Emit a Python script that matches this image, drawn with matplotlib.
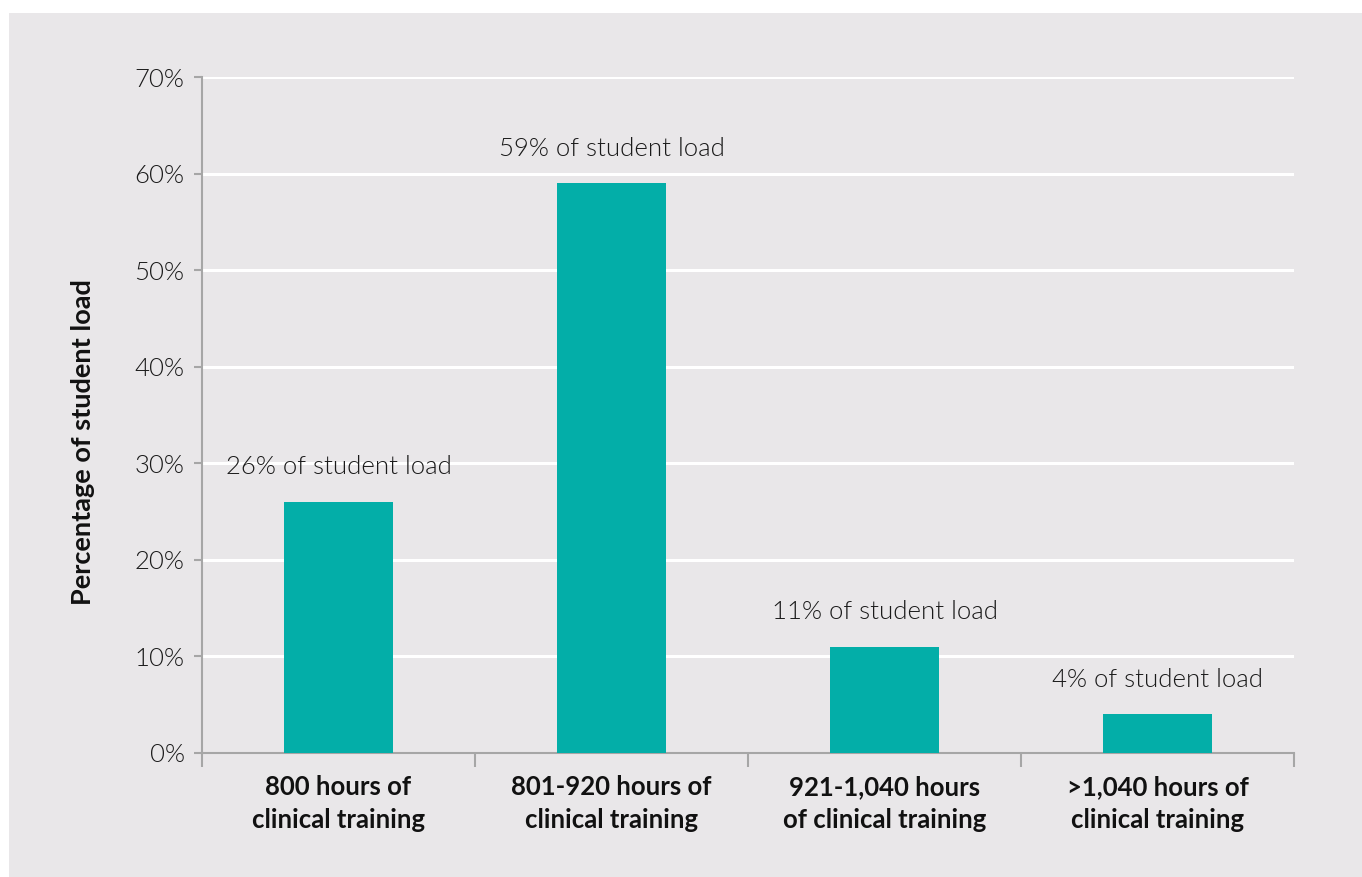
import matplotlib.pyplot as plt
from matplotlib.patches import Rectangle

categories = ["800 hours of\nclinical training", "801-920 hours of\nclinical training",
              "921-1,040 hours\nof clinical training", ">1,040 hours of\nclinical training"]
values = [26, 59, 11, 4]
labels = ["26% of student load", "59% of student load", "11% of student load", "4% of student load"]

plt.rcParams['font.family'] = ['Lato', 'DejaVu Sans']

fig = plt.figure(figsize=(13.62, 8.77), dpi=100)
fig.patch.set_facecolor("white")
fig.patches.append(Rectangle((9 / 1362, 0), 1, 1 - 13 / 877, transform=fig.transFigure,
                             facecolor="#e9e7e9", edgecolor="none", zorder=-10))

ax = fig.add_axes([202 / 1362, 1 - 753 / 877, 1092 / 1362, 676 / 877])
ax.set_facecolor("none")

x = range(len(values))
ax.bar(x, values, width=0.40, color="#03aea8", zorder=3)
for i, v in enumerate(values):
    ax.annotate(labels[i], (i, v), xytext=(0, 25), textcoords="offset points",
                ha="center", va="center", fontsize=18.5, fontweight=300, color="#1a1a1a")

ax.set_xlim(-0.5, 3.5)
ax.set_ylim(0, 70)
ax.set_yticks(range(0, 71, 10))
ax.set_yticklabels([f"{t}%" for t in range(0, 71, 10)], fontsize=18.5, fontweight=300,
                   color="#1a1a1a")
ax.yaxis.grid(True, color="white", linewidth=2.2, zorder=1)
ax.set_axisbelow(True)

ax.set_xticks([-0.5, 0.5, 1.5, 2.5, 3.5])
ax.set_xticklabels([])
ax.set_xticks(list(x), minor=True)
ax.set_xticklabels(categories, minor=True, fontsize=18.5, fontweight="bold", color="#111111",
                   linespacing=1.45)
ax.tick_params(axis="x", which="minor", length=0, pad=16)
ax.tick_params(axis="x", which="major", length=10, color="#a6a6a6", width=1.5)
ax.tick_params(axis="y", length=5.5, color="#a6a6a6", width=1.5, pad=7)

for side in ["top", "right"]:
    ax.spines[side].set_visible(False)
for side in ["left", "bottom"]:
    ax.spines[side].set_color("#a6a6a6")
    ax.spines[side].set_linewidth(1.5)

fig.text(83 / 1362, 1 - 442 / 877, "Percentage of student load", rotation=90,
         ha="center", va="center", fontsize=19.5, fontweight="bold", color="#111111")

fig.savefig("out.png", dpi=100)
